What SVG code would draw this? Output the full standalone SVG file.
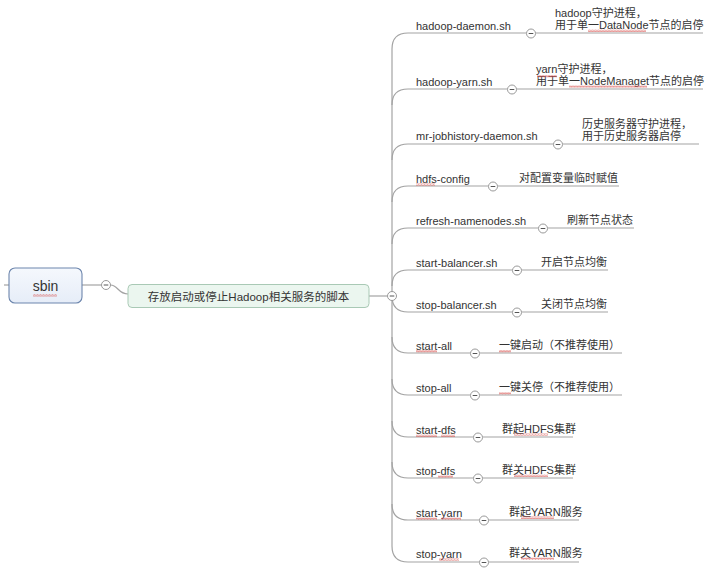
<svg xmlns="http://www.w3.org/2000/svg" width="710" height="568" viewBox="0 0 710 568">
<defs>
<style>
text{font-family:"Liberation Sans","Noto Sans CJK SC",sans-serif;fill:#333;}
.lbl{font-size:11px;}
.root{font-size:14px;text-anchor:middle;}
.main{font-size:11.5px;text-anchor:middle;}
.ln{fill:none;stroke:#a3a3a3;stroke-width:1.2;}
.tg circle{fill:#fff;stroke:#999;stroke-width:1;}
.tg path{stroke:#555;stroke-width:1;}
.wv{fill:url(#wavy);}
</style>
<pattern id="wavy" width="3" height="2.5" patternUnits="userSpaceOnUse">
<path d="M0 2 L0.75 0.5 L1.5 2 L2.25 0.5 L3 2" fill="none" stroke="#d9534f" stroke-width="0.6"/>
</pattern>
<linearGradient id="gRoot" x1="0" y1="0" x2="0" y2="1">
<stop offset="0" stop-color="#f5f8fd"/><stop offset="1" stop-color="#e6edf8"/>
</linearGradient>
<symbol id="tog" overflow="visible"><g class="tg"><circle cx="0" cy="0" r="4.5"/><path d="M-2.3 0 H2.3"/></g></symbol>
</defs>
<rect width="710" height="568" fill="#fff"/>

<g id="connectors">
<path class="ln" d="M4 285 H9"/>
<path class="ln" d="M82 285 H101.5"/>
<path class="ln" d="M110.5 285 C118 285 118 294 128 294"/>
<path class="ln" d="M369 296 H387.5"/>
<path class="ln" d="M392 49 V546"/>
<path class="ln" d="M392 49 Q392 33 408 33 H526.5"/>
<path class="ln" d="M392 105 Q392 89 408 89 H507.5"/>
<path class="ln" d="M392 160 Q392 144 408 144 H553.5"/>
<path class="ln" d="M392 202 Q392 186 408 186 H488.5"/>
<path class="ln" d="M392 244 Q392 228 408 228 H538.5"/>
<path class="ln" d="M392 286 Q392 270 408 270 H512.5"/>
<path class="ln" d="M392 296 Q392 312 408 312 H512.5"/>
<path class="ln" d="M392 337 Q392 353 408 353 H470.5"/>
<path class="ln" d="M392 379 Q392 395 408 395 H470.5"/>
<path class="ln" d="M392 421 Q392 437 408 437 H473.5"/>
<path class="ln" d="M392 462 Q392 478 408 478 H473.5"/>
<path class="ln" d="M392 504 Q392 520 408 520 H479.5"/>
<path class="ln" d="M392 546 Q392 562 408 562 H479.5"/>
<path class="ln" d="M535.5 33 H703"/>
<path class="ln" d="M516.5 89 H703"/>
<path class="ln" d="M562.5 144 H699"/>
<path class="ln" d="M497.5 186 H619"/>
<path class="ln" d="M547.5 228 H634"/>
<path class="ln" d="M521.5 270 H608"/>
<path class="ln" d="M521.5 312 H608"/>
<path class="ln" d="M479.5 353 H622"/>
<path class="ln" d="M479.5 395 H622"/>
<path class="ln" d="M482.5 437 H573"/>
<path class="ln" d="M482.5 478 H573"/>
<path class="ln" d="M488.5 520 H579"/>
<path class="ln" d="M488.5 562 H579"/>
</g>

<g id="node-sbin">
<rect x="9" y="268" width="73" height="35" rx="6" fill="url(#gRoot)" stroke="#6d86ad" stroke-width="1.1"/>
<text class="root" x="45.5" y="291">sbin</text>
<rect class="wv" x="33" y="294" width="24" height="2.5"/>
<use href="#tog" x="106" y="285"/>
</g>

<g id="node-main">
<rect x="128" y="284.5" width="241" height="23" rx="4" fill="#ebf6ef" stroke="#a9c9b5" stroke-width="1"/>
<text class="main" x="248.5" y="300.5">存放启动或停止Hadoop相关服务的脚本</text>
<use href="#tog" x="392" y="296"/>
</g>

<g id="node-hadoop-daemon">
<text class="lbl" x="416" y="30">hadoop-daemon.sh</text>
<use href="#tog" x="531" y="33.5"/>
</g>
<g id="desc-hadoop-daemon">
<text class="lbl" x="555" y="17">hadoop守护进程，</text>
<text class="lbl" x="555" y="29">用于单一DataNode节点的启停</text>
<rect class="wv" x="588" y="29.5" width="58" height="2.5"/>
</g>

<g id="node-hadoop-yarn">
<text class="lbl" x="416" y="86">hadoop-yarn.sh</text>
<use href="#tog" x="512" y="89.5"/>
</g>
<g id="desc-hadoop-yarn">
<text class="lbl" x="536" y="73">yarn守护进程，</text>
<text class="lbl" x="536" y="85">用于单一NodeManaget节点的启停</text>
<rect class="wv" x="537" y="75" width="20" height="2.5"/>
<rect class="wv" x="569" y="85.5" width="78" height="2.5"/>
</g>

<g id="node-mr-jobhistory">
<text class="lbl" x="416" y="140">mr-jobhistory-daemon.sh</text>
<use href="#tog" x="558" y="144.5"/>
</g>
<g id="desc-mr-jobhistory">
<text class="lbl" x="582" y="128">历史服务器守护进程，</text>
<text class="lbl" x="582" y="140">用于历史服务器启停</text>
</g>

<g id="node-hdfs-config">
<text class="lbl" x="416" y="183">hdfs-config</text>
<rect class="wv" x="416" y="183.5" width="19" height="2.5"/>
<use href="#tog" x="493" y="186.5"/>
</g>
<g id="desc-hdfs-config"><text class="lbl" x="519" y="182">对配置变量临时赋值</text></g>

<g id="node-refresh">
<text class="lbl" x="416" y="225">refresh-namenodes.sh</text>
<use href="#tog" x="543" y="228.5"/>
</g>
<g id="desc-refresh"><text class="lbl" x="567" y="224">刷新节点状态</text></g>

<g id="node-start-balancer">
<text class="lbl" x="416" y="267">start-balancer.sh</text>
<use href="#tog" x="517" y="270.5"/>
</g>
<g id="desc-start-balancer"><text class="lbl" x="541" y="266">开启节点均衡</text></g>

<g id="node-stop-balancer">
<text class="lbl" x="416" y="309">stop-balancer.sh</text>
<use href="#tog" x="517" y="312.5"/>
</g>
<g id="desc-stop-balancer"><text class="lbl" x="541" y="308">关闭节点均衡</text></g>

<g id="node-start-all">
<text class="lbl" x="416" y="350">start-all</text>
<rect class="wv" x="416" y="350" width="21" height="2.5"/>
<use href="#tog" x="475" y="353.5"/>
</g>
<g id="desc-start-all">
<text class="lbl" x="499" y="349">一键启动（不推荐使用）</text>
<rect class="wv" x="499" y="350" width="12" height="2.5"/>
</g>

<g id="node-stop-all">
<text class="lbl" x="416" y="392">stop-all</text>
<use href="#tog" x="475" y="395.5"/>
</g>
<g id="desc-stop-all">
<text class="lbl" x="499" y="391">一键关停（不推荐使用）</text>
<rect class="wv" x="499" y="392" width="12" height="2.5"/>
</g>

<g id="node-start-dfs">
<text class="lbl" x="416" y="434">start-dfs</text>
<rect class="wv" x="416" y="434.5" width="21" height="2.5"/>
<rect class="wv" x="441" y="434.5" width="14" height="2.5"/>
<use href="#tog" x="478" y="437.5"/>
</g>
<g id="desc-start-dfs">
<text class="lbl" x="502" y="433">群起HDFS集群</text>
<rect class="wv" x="514" y="433.5" width="34" height="2.5"/>
</g>

<g id="node-stop-dfs">
<text class="lbl" x="416" y="475">stop-dfs</text>
<rect class="wv" x="438" y="475.5" width="15" height="2.5"/>
<use href="#tog" x="478" y="478.5"/>
</g>
<g id="desc-stop-dfs">
<text class="lbl" x="502" y="474">群关HDFS集群</text>
<rect class="wv" x="514" y="474.5" width="34" height="2.5"/>
</g>

<g id="node-start-yarn">
<text class="lbl" x="416" y="517">start-yarn</text>
<rect class="wv" x="416" y="517.5" width="21" height="2.5"/>
<rect class="wv" x="441" y="517.5" width="20" height="2.5"/>
<use href="#tog" x="484" y="520.5"/>
</g>
<g id="desc-start-yarn">
<text class="lbl" x="509" y="516">群起YARN服务</text>
<rect class="wv" x="521" y="516.5" width="33" height="2.5"/>
</g>

<g id="node-stop-yarn">
<text class="lbl" x="416" y="558">stop-yarn</text>
<rect class="wv" x="439" y="558.5" width="20" height="2.5"/>
<use href="#tog" x="484" y="562.5"/>
</g>
<g id="desc-stop-yarn">
<text class="lbl" x="509" y="557">群关YARN服务</text>
<rect class="wv" x="521" y="557.5" width="33" height="2.5"/>
</g>
</svg>
